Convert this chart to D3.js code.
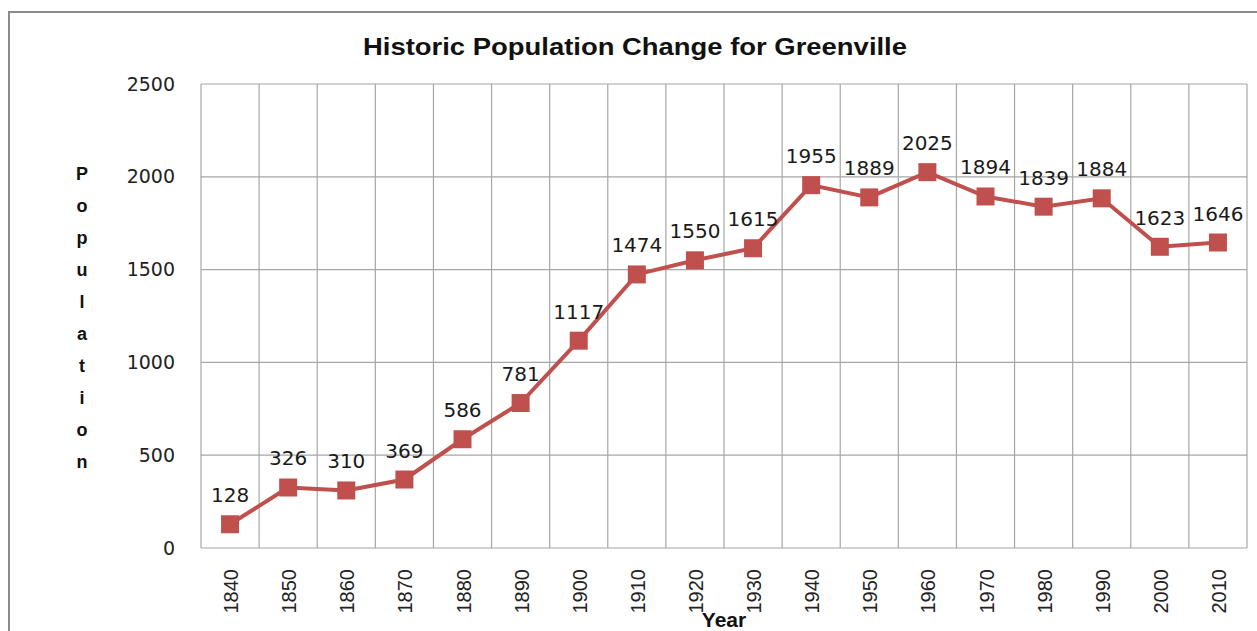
<!DOCTYPE html>
<html>

<head>
  <meta charset="UTF-8">
  <style>
    body { margin: 0; background: #fff; }
    svg { display: block; }
  </style>
</head>

<body>
  <svg></svg>
  <script src="https://d3js.org/d3.v7.min.js"></script>

  <script>

    let width = 1257, height = 631;

    // chart data
    let years = ["1840", "1850", "1860", "1870", "1880", "1890", "1900", "1910", "1920",
      "1930", "1940", "1950", "1960", "1970", "1980", "1990", "2000", "2010"];
    let population = [128, 326, 310, 369, 586, 781, 1117, 1474, 1550,
      1615, 1955, 1889, 2025, 1894, 1839, 1884, 1623, 1646];
    let yTicks = [0, 500, 1000, 1500, 2000, 2500];
    let titleText = "Historic Population Change for Greenville";
    let yLabel = "Population";
    let xLabel = "Year";

    let margin = { left: 201, right: 10, top: 84, bottom: 83 };
    let lineColor = "#C0504D";

    let svg = d3.select("svg")
      .attr("width", width)
      .attr("height", height);

    // outer chart border
    svg.append("rect")
      .attr("x", 9)
      .attr("y", 12)
      .attr("width", width + 20)
      .attr("height", height + 20)
      .attr("fill", "none")
      .attr("stroke", "#8c8c8c")
      .attr("stroke-width", 2);

    let x = d3.scaleBand()
      .domain(years)
      .range([margin.left, width - margin.right])
      .padding(0);

    let y = d3.scaleLinear()
      .domain([0, 2500])
      .range([height - margin.bottom, margin.top]);

    // grid
    let grid = svg.append("g").attr("stroke", "#a6a6a6").attr("stroke-width", 1.2);
    grid.selectAll(".h")
      .data(yTicks)
      .enter()
      .append("line")
      .attr("x1", x.range()[0])
      .attr("x2", x.range()[1])
      .attr("y1", d => y(d))
      .attr("y2", d => y(d));
    grid.selectAll(".v")
      .data(years.concat(["end"]))
      .enter()
      .append("line")
      .attr("x1", (d, i) => x.range()[0] + i * x.bandwidth())
      .attr("x2", (d, i) => x.range()[0] + i * x.bandwidth())
      .attr("y1", y(0))
      .attr("y2", y(2500));

    // y axis labels
    let yAxis = d3.axisLeft(y).tickValues(yTicks).tickFormat(d3.format("d")).tickSize(0).tickPadding(26);
    svg.append("g")
      .attr("transform", "translate(" + margin.left + ",0)")
      .call(yAxis)
      .call(g => g.select(".domain").remove())
      .selectAll("text")
      .attr("font-family", "DejaVu Sans")
      .attr("font-size", 19)
      .attr("fill", "#222");

    // x axis labels (rotated)
    svg.append("g")
      .selectAll("text")
      .data(years)
      .enter()
      .append("text")
      .attr("transform", d => "translate(" + (x(d) + x.bandwidth() / 2 + 1) + ",569) rotate(-90)")
      .attr("text-anchor", "end")
      .attr("dy", "0.35em")
      .attr("font-family", "Liberation Sans")
      .attr("font-size", 20)
      .attr("fill", "#222")
      .text(d => d);

    // line + markers
    let line = d3.line()
      .x((d, i) => x(years[i]) + x.bandwidth() / 2)
      .y(d => y(d));

    svg.append("path")
      .datum(population)
      .attr("d", line)
      .attr("fill", "none")
      .attr("stroke", lineColor)
      .attr("stroke-width", 4);

    let ms = 18;
    svg.append("g")
      .selectAll("rect")
      .data(population)
      .enter()
      .append("rect")
      .attr("x", (d, i) => x(years[i]) + x.bandwidth() / 2 - ms / 2)
      .attr("y", d => y(d) - ms / 2)
      .attr("width", ms)
      .attr("height", ms)
      .attr("fill", lineColor);

    // data labels
    svg.append("g")
      .selectAll("text")
      .data(population)
      .enter()
      .append("text")
      .attr("x", (d, i) => x(years[i]) + x.bandwidth() / 2)
      .attr("y", d => y(d) - 22)
      .attr("text-anchor", "middle")
      .attr("font-family", "DejaVu Sans")
      .attr("font-size", 20)
      .attr("fill", "#1a1a1a")
      .text(d => d);

    // title (stretched a bit, like the original)
    svg.append("text")
      .attr("x", 635)
      .attr("y", 55)
      .attr("text-anchor", "middle")
      .attr("font-family", "Liberation Sans")
      .attr("font-weight", "bold")
      .attr("font-size", 23)
      .attr("textLength", 544)
      .attr("lengthAdjust", "spacingAndGlyphs")
      .attr("fill", "#111")
      .text(titleText);

    // vertical y label, one letter per line
    svg.append("g")
      .selectAll("text")
      .data(yLabel.split(""))
      .enter()
      .append("text")
      .attr("x", 82)
      .attr("y", (d, i) => 174 + i * 32)
      .attr("dy", "0.35em")
      .attr("text-anchor", "middle")
      .attr("font-family", "Liberation Sans")
      .attr("font-weight", "bold")
      .attr("font-size", 18)
      .attr("fill", "#111")
      .text(d => d);

    // x label
    svg.append("text")
      .attr("x", (x.range()[0] + x.range()[1]) / 2)
      .attr("y", 627)
      .attr("text-anchor", "middle")
      .attr("font-family", "Liberation Sans")
      .attr("font-weight", "bold")
      .attr("font-size", 21)
      .attr("fill", "#111")
      .text(xLabel);

  </script>

</body>

</html>
